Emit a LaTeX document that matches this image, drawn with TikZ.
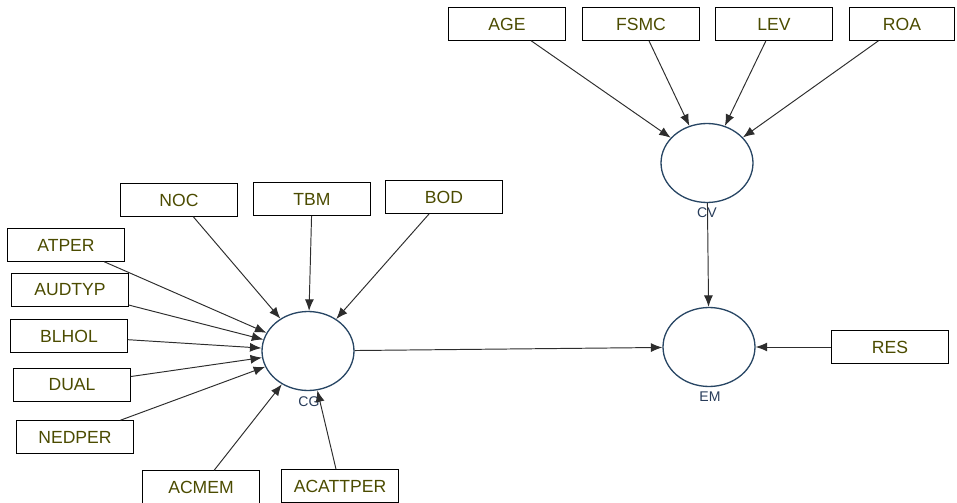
\documentclass[tikz,border=0pt]{standalone}
\usepackage{fontspec}
\setmainfont{Liberation Sans}
\usepackage{tikz}
\usetikzlibrary{arrows.meta,shapes.geometric}
\definecolor{labeltext}{RGB}{75,75,0}
\definecolor{latentline}{RGB}{40,70,100}
\definecolor{latenttext}{RGB}{40,60,90}
\definecolor{pathline}{RGB}{45,45,45}

\begin{document}
\begin{tikzpicture}[x=0.02cm,y=-0.02cm]
    \tikzset{obs node/.style={rectangle,draw,line width=0.6pt,minimum width=2.33cm,minimum height=0.65cm,inner sep=0pt,text=labeltext,font=\fontsize{10}{12}\selectfont}}
    \tikzset{latent node/.style={ellipse,draw=latentline,line width=0.75pt,minimum width=1.84cm,minimum height=1.58cm,inner sep=0pt}}
    \tikzset{latent label/.style={text=latenttext,font=\fontsize{8}{10}\selectfont,inner sep=0pt}}
    \tikzset{path arrow/.style={draw=pathline,line width=0.55pt,-{Latex[length=2.3mm,width=1.8mm]}}}
    \useasboundingbox (0,0) rectangle (957,503);
    % Latent variables
    \node (CG) [latent node] at (308,351) {};
    \node (CV) [latent node] at (707,163) {};
    \node (EM) [latent node] at (709,347) {};
    \node (CG_label) [latent label] at (309,402) {CG};
    \node (CV_label) [latent label] at (707,213) {CV};
    \node (EM_label) [latent label] at (710,397) {EM};

    % Indicators of CG
    \node (NOC) [obs node] at (179,200) {NOC};
    \node (TBM) [obs node] at (312,199) {TBM};
    \node (BOD) [obs node] at (444,197) {BOD};
    \node (ATPER) [obs node] at (66,245) {ATPER};
    \node (AUDTYP) [obs node] at (70,290) {AUDTYP};
    \node (BLHOL) [obs node] at (69,336) {BLHOL};
    \node (DUAL) [obs node] at (72,385) {DUAL};
    \node (NEDPER) [obs node] at (75,437) {NEDPER};
    \node (ACMEM) [obs node] at (201,487) {ACMEM};
    \node (ACATTPER) [obs node] at (340,486) {ACATTPER};

    % Indicators of CV
    \node (AGE) [obs node] at (507,24) {AGE};
    \node (FSMC) [obs node] at (641,24) {FSMC};
    \node (LEV) [obs node] at (774,24) {LEV};
    \node (ROA) [obs node, minimum width=2.1cm] at (902,24) {ROA};

    % Residual
    \node (RES) [obs node] at (890,347) {RES};

    % Arrows
    \draw [path arrow] (NOC) -- (CG);
    \draw [path arrow] (TBM) -- (CG);
    \draw [path arrow] (BOD) -- (CG);
    \draw [path arrow] (ATPER) -- (CG);
    \draw [path arrow] (AUDTYP) -- (CG);
    \draw [path arrow] (BLHOL) -- (CG);
    \draw [path arrow] (DUAL) -- (CG);
    \draw [path arrow] (NEDPER) -- (CG);
    \draw [path arrow] (ACMEM) -- (CG);
    \draw [path arrow] (ACATTPER) -- (CG);
    \draw [path arrow] (AGE) -- (CV);
    \draw [path arrow] (FSMC) -- (CV);
    \draw [path arrow] (LEV) -- (CV);
    \draw [path arrow] (ROA) -- (CV);
    \draw [path arrow] (CV) -- (EM);
    \draw [path arrow] (CG) -- (EM);
    \draw [path arrow] (RES) -- (EM);
\end{tikzpicture}
\end{document}
